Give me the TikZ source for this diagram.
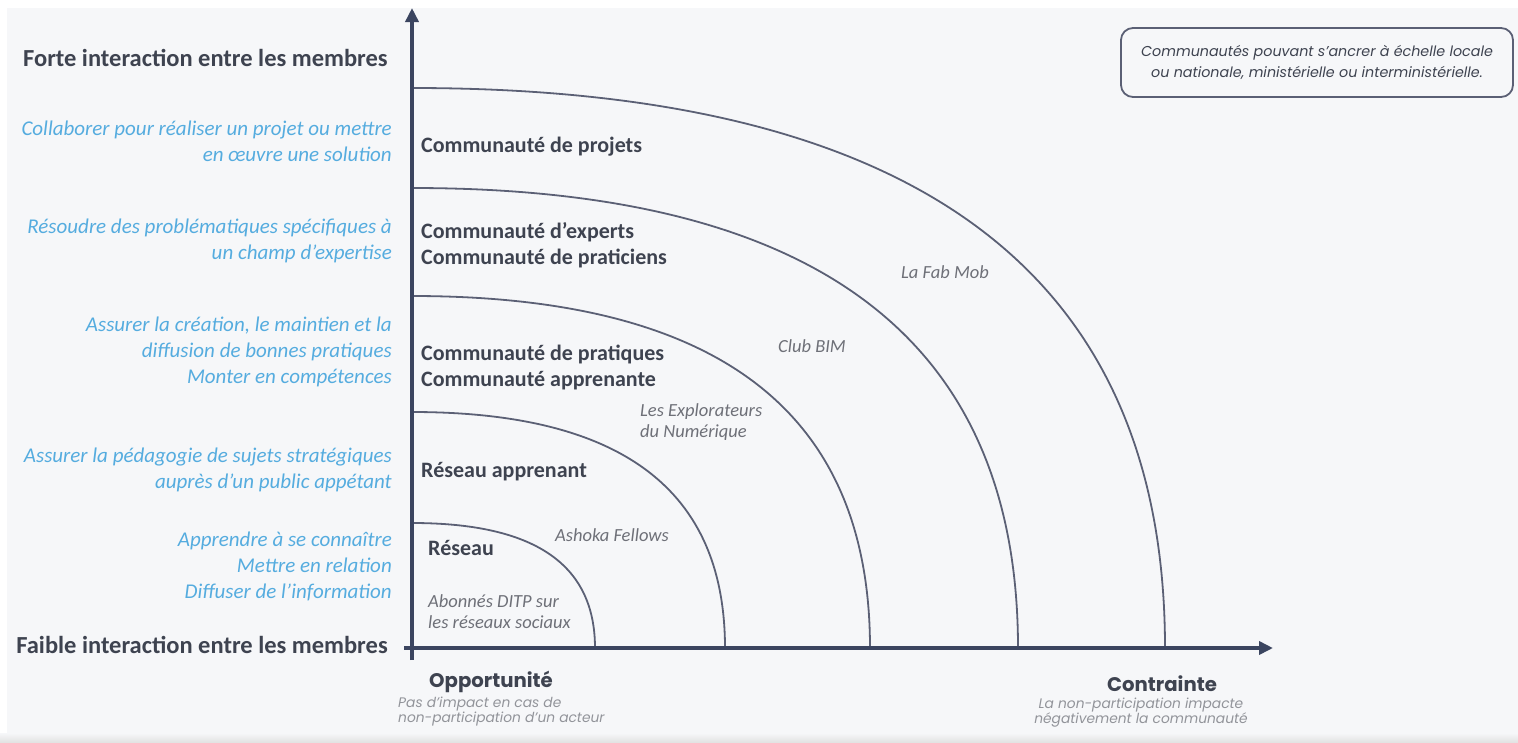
\documentclass[tikz,border=0pt]{standalone}
\usepackage{fontspec}
\setmainfont{Carlito}
\newfontfamily\roundfont{Poppins}
\usetikzlibrary{arrows.meta}
\definecolor{axisnavy}{HTML}{3B4560}
\definecolor{ringgray}{HTML}{5B6075}
\definecolor{skyblue}{HTML}{55ACDF}
\definecolor{inkgray}{HTML}{3E4350}
\definecolor{notegray}{HTML}{6E7078}
\definecolor{paper}{HTML}{F6F7F9}
\begin{document}
\begin{tikzpicture}[x=1pt,y=-1pt,
  axis/.style={line width=4pt,draw=axisnavy},
  ring/.style={line width=1.8pt,draw=ringgray},
  level/.style={font=\bfseries\fontsize{24.5}{28}\selectfont,text=inkgray,inner sep=0pt},
  goal/.style={font=\itshape\fontsize{21}{26}\selectfont,text=skyblue,align=right,anchor=east,inner sep=0pt},
  kind/.style={font=\bfseries\fontsize{22}{26}\selectfont,text=inkgray,align=left,anchor=west,inner sep=0pt},
  case/.style={font=\itshape\fontsize{18.5}{21}\selectfont,text=notegray,align=left,inner sep=0pt},
  pole/.style={font=\roundfont\bfseries\fontsize{19.7}{22}\selectfont,text=inkgray,inner sep=0pt},
  polenote/.style={font=\roundfont\itshape\fontsize{13.8}{15}\selectfont,text=notegray!75,align=center,inner sep=0pt}]
\useasboundingbox (0,0) rectangle (1518,742);
\fill[white] (0,0) rectangle (1518,742);
\fill[paper] (7,8) rectangle (1518,733);
\shade[top color=paper,bottom color=gray!22] (0,733) rectangle (1518,742);

% rings, from Reseau out to Communaute de projets
\foreach \rx/\ry in {183/125,313/236,458/352,606/460,753/560}
  \draw[ring] (412,648-\ry) .. controls (412+0.67*\rx,648-\ry) and (412+\rx,648-0.67*\ry) .. (412+\rx,648);

% axes
\coordinate (O) at (412,648);
\draw[axis,-{Triangle[length=14pt,width=13pt]}] (412,660) -- (412,8);
\draw[axis,-{Triangle[length=14pt,width=13pt]}] (404,648) -- (1273,648);

% left column
\node[level,anchor=east] (forte) at (388,58) {Forte interaction entre les membres};
\node[level,anchor=east] (faible) at (388,645) {Faible interaction entre les membres};
\node[goal] (projet) at (392,141.5) {Collaborer pour réaliser un projet ou mettre\\en œuvre une solution};
\node[goal] (expertise) at (392,240.5) {Résoudre des problématiques spécifiques à\\un champ d’expertise};
\node[goal] (pratiques) at (392,352) {Assurer la création, le maintien et la\\diffusion de bonnes pratiques\\Monter en compétences};
\node[goal] (pedagogie) at (392,469.5) {Assurer la pédagogie de sujets stratégiques\\auprès d’un public appétant};
\node[goal] (relation) at (392,566) {Apprendre à se connaître\\Mettre en relation\\Diffuser de l’information};

% kinds of community
\node[kind] (cprojets) at (421,147) {Communauté de projets};
\node[kind] (cexperts) at (421,245) {Communauté d’experts\\Communauté de praticiens};
\node[kind] (cpratiques) at (421,367) {Communauté de pratiques\\Communauté apprenante};
\node[kind] (rapprenant) at (421,472) {Réseau apprenant};
\node[kind] (reseau) at (428,548) {Réseau};

% examples
\node[case,anchor=west] (ditp) at (428,611.5) {Abonnés DITP sur\\les réseaux sociaux};
\node[case] (ashoka) at (612,535) {Ashoka Fellows};
\node[case,anchor=west] (explo) at (640,422) {Les Explorateurs\\du Numérique};
\node[case] (bim) at (812,346) {Club BIM};
\node[case] (fabmob) at (945,272) {La Fab Mob};

% poles of the horizontal axis
\node[pole] (opportunite) at (491,682) {Opportunité};
\node[polenote,anchor=west,align=left] (oppnote) at (398,711.5) {Pas d’impact en cas de\\non-participation d’un acteur};
\node[pole] (contrainte) at (1162,684) {Contrainte};
\node[polenote] (connote) at (1141,713) {La non-participation impacte\\négativement la communauté};

% note box
\node[draw=ringgray,line width=1.8pt,rounded corners=12pt,minimum width=392pt,minimum height=69pt,
  font=\roundfont\itshape\fontsize{14.3}{21}\selectfont,text=inkgray,align=center,inner sep=0pt] (note) at (1317,62.5)
  {Communautés pouvant s’ancrer à échelle locale\\ou nationale, ministérielle ou interministérielle.};
\end{tikzpicture}
\end{document}
